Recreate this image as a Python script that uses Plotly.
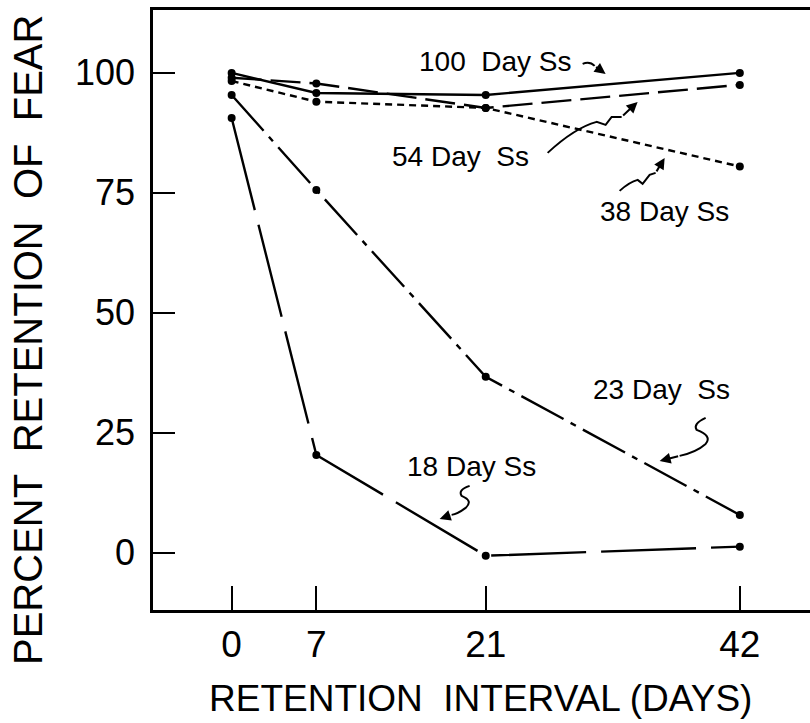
import plotly.graph_objects as go

# Retention interval (days) and percent retention of fear per age group
days = [0, 7, 21, 42]
ret_100 = [100, 95.8, 95.4, 100]
ret_54 = [99.0, 97.8, 92.7, 97.5]
ret_38 = [98.3, 94.0, 92.7, 80.5]
ret_23 = [95.4, 75.6, 36.7, 7.9]
ret_18 = [90.6, 20.4, -0.6, 1.3]

series = [
    ("100 Day Ss", ret_100, "solid"),
    ("54 Day Ss", ret_54, "30px,9px"),
    ("38 Day Ss", ret_38, "7px,5px"),
    ("23 Day Ss", ret_23, "48px,8px,6px,8px"),
    ("18 Day Ss", ret_18, "95px,15px"),
]

x_ticks = [0, 7, 21, 42]
y_ticks = [0, 25, 50, 75, 100]

FONT = "Liberation Sans"

fig = go.Figure()
for name, vals, dash in series:
    fig.add_trace(go.Scatter(
        x=days, y=vals, name=name, mode="lines+markers",
        line=dict(color="black", width=2.4, dash=dash),
        marker=dict(color="black", size=8),
        showlegend=False,
    ))

XR = [-6.5, 47.8]
YR = [-11.9, 113.1]


def px(xp, yp):
    """Convert a position on the 810x723 page into data units."""
    return ((xp - 232) / 12.1, (553 - yp) / 4.8)


def path(points):
    d = []
    for cmd, *pts in points:
        coords = " ".join("{:.3f},{:.3f}".format(*px(a, b)) for a, b in zip(pts[::2], pts[1::2]))
        d.append(cmd + " " + coords)
    return " ".join(d)


# Wavy leader lines for the group labels
leaders = [
    # 54 Day
    [("M", 548, 153), ("Q", 575, 128, 597, 122), ("L", 606, 125), ("L", 612, 117), ("L", 622, 117)],
    # 38 Day
    [("M", 620, 191), ("Q", 630, 182, 638, 180), ("L", 643, 184), ("L", 650, 175), ("L", 656, 173)],
    # 23 Day
    [("M", 706, 418), ("Q", 693, 424, 697, 430), ("Q", 713, 436, 706, 444), ("Q", 697, 452, 680, 456)],
    # 18 Day
    [("M", 470, 486), ("Q", 458, 490, 462, 496), ("Q", 474, 501, 466, 508), ("Q", 458, 514, 452, 515)],
    # 100 Day
    [("M", 583, 64), ("Q", 590, 61, 595, 66)],
]
for pts in leaders:
    fig.add_shape(type="path", xref="x", yref="y", path=path(pts),
                  line=dict(color="black", width=2))

# Arrow heads at the end of each leader
heads = [
    ((622, 117), (638, 102)),
    ((656, 173), (665, 158)),
    ((680, 456), (660, 461)),
    ((452, 515), (440, 519)),
    ((595, 66), (606, 74)),
]
for (sx, sy), (tx, ty) in heads:
    x, y = px(tx, ty)
    fig.add_annotation(x=x, y=y, xref="x", yref="y", text="", showarrow=True,
                       arrowhead=2, arrowsize=1.1, arrowwidth=2, arrowcolor="black",
                       ax=sx - tx, ay=sy - ty)

# Group labels
labels = [
    ("100  Day Ss", 496, 62),
    ("54 Day  Ss", 461, 157),
    ("38 Day Ss", 665, 212),
    ("23 Day  Ss", 662, 390),
    ("18 Day Ss", 472, 467),
]
for text, lx, ly in labels:
    x, y = px(lx, ly)
    fig.add_annotation(x=x, y=y, xref="x", yref="y", text=text, showarrow=False,
                       xanchor="center", yanchor="middle",
                       font=dict(family=FONT, size=28, color="black"))

# Axis titles
fig.add_annotation(x=(480 - 153) / 657, y=(610 - 698) / 600, xref="paper", yref="paper",
                   text="RETENTION  INTERVAL (DAYS)", showarrow=False,
                   xanchor="center", yanchor="middle",
                   font=dict(family=FONT, size=37, color="black"))
fig.add_annotation(x=(28 - 153) / 657, y=(610 - 340) / 600, xref="paper", yref="paper",
                   text="PERCENT  RETENTION  OF  FEAR", showarrow=False, textangle=-90,
                   xanchor="center", yanchor="middle",
                   font=dict(family=FONT, size=40, color="black"))

fig.update_xaxes(
    range=XR, tickvals=x_ticks, ticktext=[str(v) for v in x_ticks],
    ticks="inside", ticklen=24, tickwidth=2, tickcolor="black",
    showline=True, linecolor="black", linewidth=2.5, mirror=True,
    showgrid=False, zeroline=False, ticklabelstandoff=0,
    tickfont=dict(family=FONT, size=37, color="black"),
)
fig.update_yaxes(
    range=YR, tickvals=y_ticks, ticktext=[str(v) for v in y_ticks],
    ticks="inside", ticklen=22, tickwidth=2, tickcolor="black",
    showline=True, linecolor="black", linewidth=2.5,
    showgrid=False, zeroline=False, ticklabelstandoff=8,
    tickfont=dict(family=FONT, size=36, color="black"),
)
fig.update_layout(
    width=810, height=723,
    margin=dict(l=153, r=0, t=10, b=113),
    plot_bgcolor="white", paper_bgcolor="white",
)

fig.write_html("out.html")
